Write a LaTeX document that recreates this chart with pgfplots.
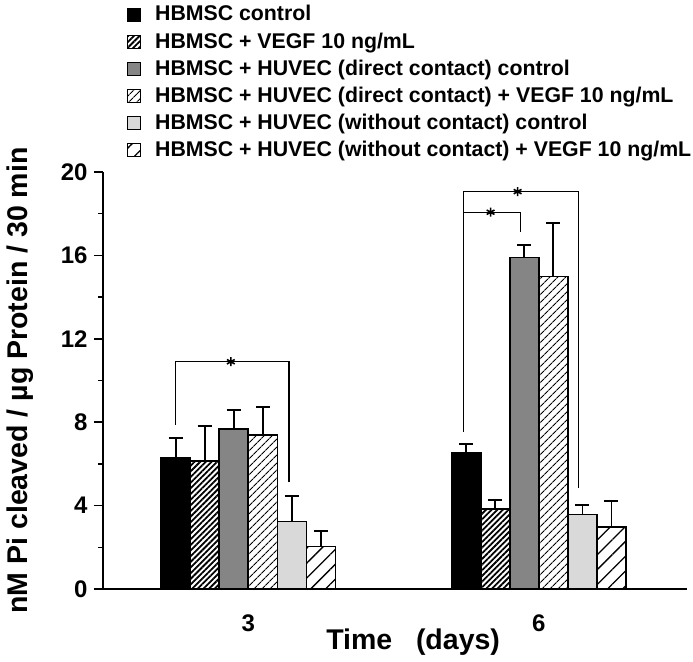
\documentclass[border=0pt]{standalone}
\usepackage{fontspec}
\setmainfont{Liberation Sans}
\usepackage{pgfplots}
\pgfplotsset{compat=1.18}
\usetikzlibrary{patterns.meta}
\pgfplotsset{
  eb/.style={bar shift=0pt, line width=1.6bp, draw=black,
    error bars/y dir=plus, error bars/y explicit,
    error bars/error bar style={line width=1.8bp, black, solid},
    error bars/error mark options={rotate=90, mark size=7bp, line width=1.8bp, black, solid}},
}
\begin{document}
\begin{tikzpicture}
\begin{axis}[
  name=ax, at={(0,0)}, anchor=south west,
  scale only axis, width=584bp, height=417bp,
  xmin=-0.5, xmax=1.51, ymin=0, ymax=20,
  axis x line*=bottom, axis y line*=left,
  axis line style={-, line width=1.8bp},
  ybar, bar width=0.1,
  clip=false,
  xtick={0,1}, xticklabels={3,6},
  ytick={0,4,...,20}, minor ytick={2,6,...,18},
  tick align=outside, major tick length=9bp, minor tick length=5bp,
  tick style={line width=1.5bp, black},
  xtick style={draw=none},
  /pgf/number format/assume math mode=true,
  ticklabel style={font=\fontsize{24bp}{24bp}\selectfont\bfseries},
  yticklabel style={xshift=-3bp},
  xticklabel style={yshift=-13bp},
  xlabel={Time\ \ \ (days)},
  xlabel style={at={(axis description cs:0.531,-0.128)}, anchor=center, font=\fontsize{28.5bp}{28.5bp}\selectfont\bfseries},
  ylabel={nM Pi cleaved / µg Protein / 30 min},
  ylabel style={at={(axis description cs:-0.141,0.5)}, anchor=center, font=\fontsize{28.5bp}{28.5bp}\selectfont\bfseries},
  legend cell align=left,
  legend image code/.code={\draw[#1, line width=1bp] (0bp,-6.5bp) rectangle (13bp,6.5bp);},
  legend style={at={(axis description cs:0.041,1.4)}, anchor=north west,
    draw=none, fill=none, inner sep=0pt, row sep=8.1bp, column sep=14bp,
    font=\fontsize{21.3bp}{21.3bp}\selectfont\bfseries,
    nodes={inner sep=0pt, text height=15.5bp, text depth=3.5bp}},
]
\addplot[eb, fill=black] coordinates {(-0.25,6.27) +- (0,0.97) (0.75,6.54) +- (0,0.40)};
\addplot[eb, pattern={Lines[angle=45,distance=4bp,line width=1.8bp]}] coordinates {(-0.15,6.15) +- (0,1.67) (0.85,3.85) +- (0,0.42)};
\addplot[eb, fill=black!48] coordinates {(-0.05,7.66) +- (0,0.91) (0.95,15.90) +- (0,0.60)};
\addplot[eb, pattern={Lines[angle=45,distance=6bp,line width=1.3bp]}] coordinates {(0.05,7.40) +- (0,1.34) (1.05,14.98) +- (0,2.59)};
\addplot[eb, fill=black!15] coordinates {(0.15,3.23) +- (0,1.22) (1.15,3.58) +- (0,0.45)};
\addplot[eb, pattern={Lines[angle=45,distance=10.5bp,line width=1.3bp]}] coordinates {(0.25,2.03) +- (0,0.75) (1.25,2.96) +- (0,1.27)};
\legend{HBMSC control, HBMSC + VEGF 10 ng/mL, HBMSC + HUVEC (direct contact) control, HBMSC + HUVEC (direct contact) + VEGF 10 ng/mL, HBMSC + HUVEC (without contact) control, HBMSC + HUVEC (without contact) + VEGF 10 ng/mL}
% significance brackets
\addplot[sharp plot, bar shift=0pt, black, line width=1.3bp, forget plot] coordinates {(-0.25,7.87) (-0.25,10.9) (0.14,10.9) (0.14,5.15)};
\addplot[sharp plot, bar shift=0pt, black, line width=1.3bp, forget plot] coordinates {(0.74,7.55) (0.74,19.06) (1.137,19.06) (1.137,4.83)};
\addplot[sharp plot, bar shift=0pt, black, line width=1.3bp, forget plot] coordinates {(0.74,18.07) (0.936,18.07) (0.936,17.14)};
\addplot[only marks, bar shift=0pt, mark=asterisk, mark size=4.5bp, mark options={line width=1.6bp, black}, forget plot] coordinates {(-0.06,10.9) (0.927,19.06) (0.834,18.07)};
\end{axis}
\path[use as bounding box] (-103bp,-73bp) rectangle (590bp,589bp);
\end{tikzpicture}
\end{document}
